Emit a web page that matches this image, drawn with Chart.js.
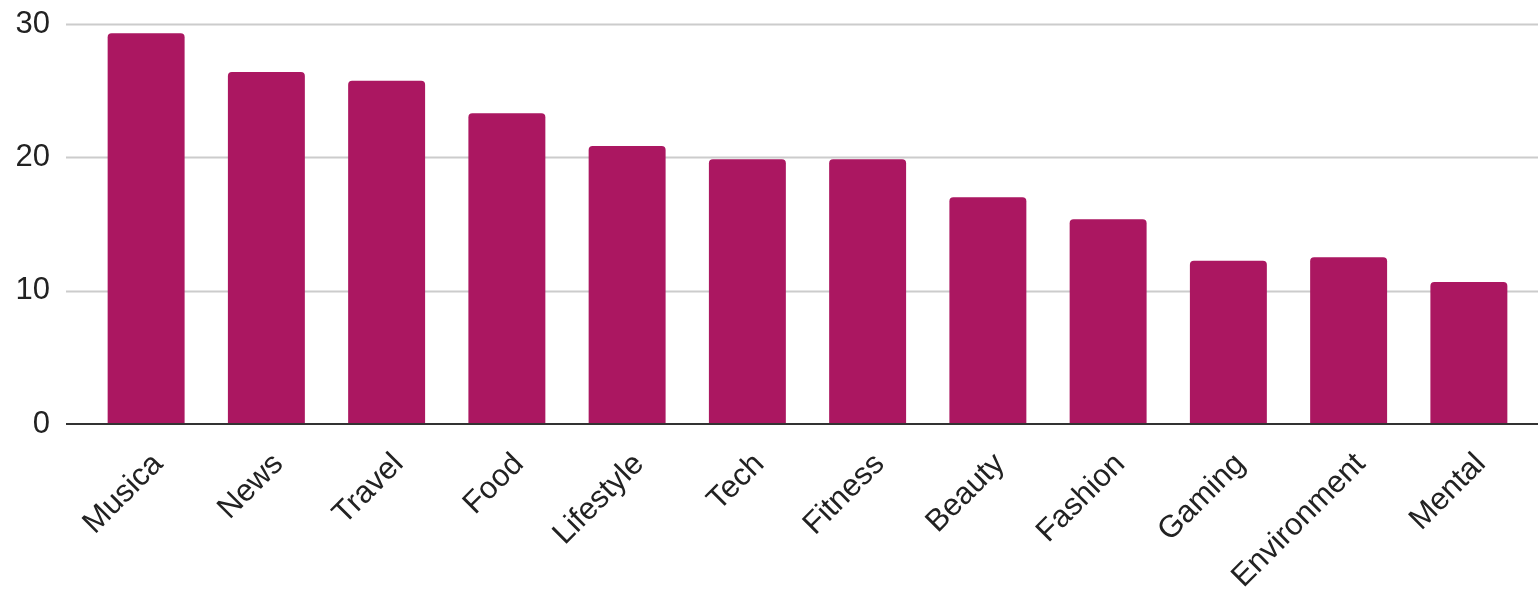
<!DOCTYPE html>
<html>
<head>
<meta charset="utf-8">
<script src="https://cdn.jsdelivr.net/npm/chart.js@4/dist/chart.umd.min.js"></script>
<style>
  html, body { margin: 0; padding: 0; background: #fff; }
  #wrap { width: 1538px; height: 590px; }
</style>
</head>
<body>
<div id="wrap"><canvas id="barChart" width="1538" height="590"></canvas></div>
<script>
let categories = ['Musica', 'News', 'Travel', 'Food', 'Lifestyle', 'Tech', 'Fitness', 'Beauty', 'Fashion', 'Gaming', 'Environment', 'Mental'];
let values = [29.3, 26.4, 25.75, 23.3, 20.85, 19.85, 19.85, 17.0, 15.35, 12.25, 12.5, 10.65];
let yTicks = [0, 10, 20, 30];

let barColor = '#ab1761';

// gridlines run a bit past the plot area on both sides, like the original
const wideGrid = {
    id: 'wideGrid',
    beforeDatasetsDraw(chart) {
        const ctx = chart.ctx;
        const y = chart.scales.y;
        ctx.save();
        yTicks.forEach(function (t) {
            if (t === 0) return;
            const py = Math.round(y.getPixelForValue(t)) + 0.5;
            ctx.strokeStyle = '#cccccc';
            ctx.lineWidth = 2;
            ctx.beginPath();
            ctx.moveTo(66, py);
            ctx.lineTo(1538, py);
            ctx.stroke();
        });
        ctx.restore();
    },
    afterDatasetsDraw(chart) {
        const ctx = chart.ctx;
        const py = Math.round(chart.scales.y.getPixelForValue(0));
        ctx.save();
        ctx.strokeStyle = '#333333';
        ctx.lineWidth = 2;
        ctx.beginPath();
        ctx.moveTo(66, py);
        ctx.lineTo(1538, py);
        ctx.stroke();
        ctx.restore();
    }
};

const ctx = document.getElementById('barChart').getContext('2d');
const chart = new Chart(ctx, {
    type: 'bar',
    data: {
        labels: categories,
        datasets: [{
            data: values,
            backgroundColor: barColor,
            borderRadius: { topLeft: 4, topRight: 4 },
            borderSkipped: 'bottom',
            barPercentage: 0.64,
            categoryPercentage: 1.0
        }]
    },
    options: {
        responsive: false,
        animation: false,
        layout: { padding: { top: 24, right: 9, left: 0, bottom: 0 } },
        plugins: {
            legend: { display: false },
            tooltip: { enabled: false }
        },
        scales: {
            x: {
                grid: { display: false, drawTicks: false },
                border: { display: false },
                ticks: {
                    color: '#222',
                    font: { family: 'Arial, "Liberation Sans", sans-serif', size: 31 },
                    maxRotation: 45,
                    minRotation: 45,
                    autoSkip: false,
                    padding: 22,
                    labelOffset: 12
                },
                afterFit(scale) { scale.height = 166; }
            },
            y: {
                min: 0,
                max: 30,
                grid: { display: false, drawTicks: false },
                border: { display: false },
                ticks: {
                    stepSize: 10,
                    color: '#222',
                    padding: 36,
                    font: { family: 'Arial, "Liberation Sans", sans-serif', size: 31 }
                },
                afterFit(scale) {
                    scale.width = 86;
                    scale.paddingTop = 0;
                    scale.paddingBottom = 0;
                }
            }
        }
    },
    plugins: [wideGrid]
});
</script>
</body>
</html>
